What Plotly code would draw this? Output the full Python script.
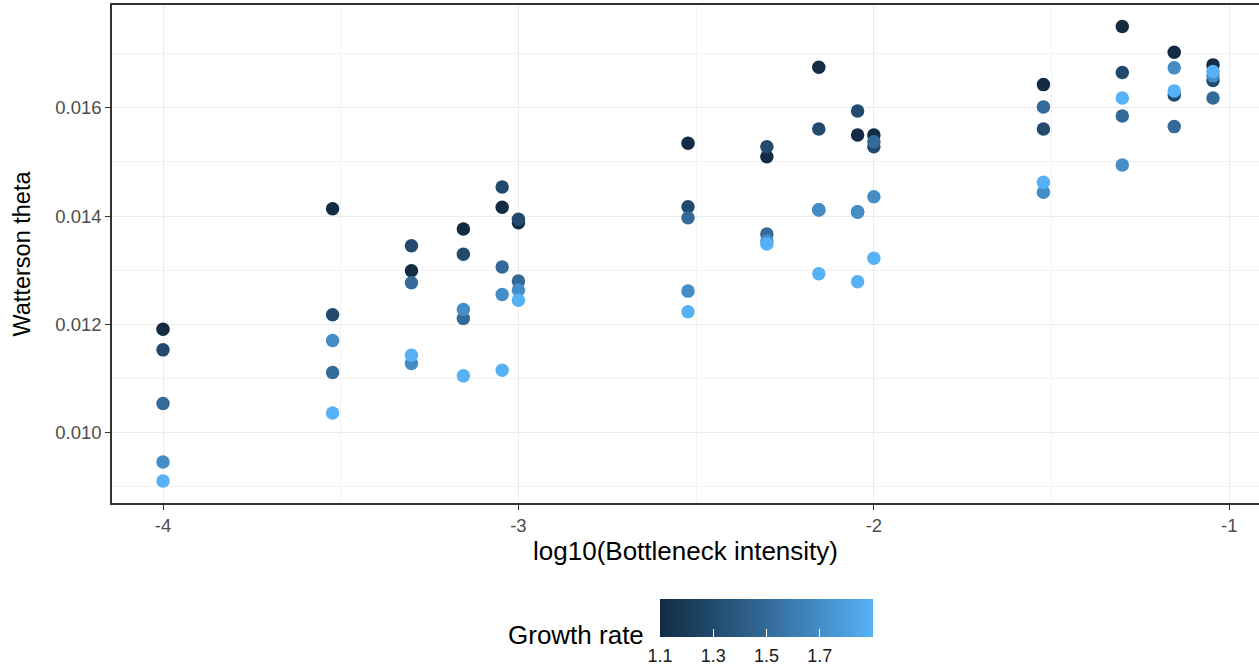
import numpy as np
import plotly.graph_objects as go

# Data
bottleneck = [1e-4, 3e-4, 5e-4, 7e-4, 9e-4, 1e-3, 3e-3, 5e-3, 7e-3, 9e-3, 1e-2, 3e-2, 5e-2, 7e-2, 9e-2]
growth_rates = [1.1, 1.3, 1.5, 1.7, 1.9]
theta_g11 = [0.011907, 0.014135, 0.012987, 0.013759, 0.014161, 0.013876, 0.015346, 0.015098, 0.016754, 0.015500, 0.015500, 0.016431, 0.017506, 0.017031, 0.016796]
theta_g13 = [0.011524, 0.012172, 0.013450, 0.013291, 0.014537, 0.013939, 0.014172, 0.015283, 0.015611, 0.015944, 0.015283, 0.015611, 0.016654, 0.016241, 0.016506]
theta_g15 = [0.010531, 0.011106, 0.012765, 0.012106, 0.013056, 0.012796, 0.013969, 0.013667, 0.014117, 0.014080, 0.015376, 0.016019, 0.015852, 0.015654, 0.016185]
theta_g17 = [0.009450, 0.011698, 0.011272, 0.012272, 0.012550, 0.012630, 0.012611, 0.013537, 0.014110, 0.014070, 0.014357, 0.014439, 0.014944, 0.016741, 0.016593]
theta_g19 = [0.009098, 0.010357, 0.011426, 0.011043, 0.011148, 0.012444, 0.012228, 0.013481, 0.012931, 0.012783, 0.013217, 0.014624, 0.016185, 0.016315, 0.016672]
x_tickvals = [-4, -3, -2, -1]
x_ticktext = ["-4", "-3", "-2", "-1"]
y_tickvals = [0.010, 0.012, 0.014, 0.016]
cbar_tickvals = [1.1, 1.3, 1.5, 1.7]
cbar_ticktext = ["1.1", "1.3", "1.5", "1.7"]

series = [theta_g11, theta_g13, theta_g15, theta_g17, theta_g19]
xs, ys, cs = [], [], []
for g, vals in zip(growth_rates, series):
    xs += list(np.log10(bottleneck))
    ys += vals
    cs += [g] * len(vals)

colorscale = [[0.0, "#132B43"], [0.25, "#224A6E"], [0.5, "#336A98"], [0.75, "#448DC6"], [1.0, "#56B1F7"]]
cmin, cmax = min(growth_rates), max(growth_rates)

W, H = 1259, 669
L, T, B = 112, 5, 166
plot_h = H - T - B
plot_w = W - L

cb_geom = dict(
    orientation="h", lenmode="pixels", len=213, thickness=38,
    x=(766.5 - L) / plot_w, xanchor="center",
    y=-(599 - 503) / plot_h, yanchor="top", ypad=0, xpad=0,
    outlinewidth=0, tickvals=cbar_tickvals, ticktext=cbar_ticktext,
)

fig = go.Figure()
# main points + labelled colorbar
fig.add_trace(go.Scatter(
    x=xs, y=ys, mode="markers",
    marker=dict(
        size=13.5, color=cs, colorscale=colorscale, cmin=cmin, cmax=cmax,
        line=dict(width=0), opacity=1,
        colorbar=dict(
            **cb_geom,
            ticks="outside", ticklen=4, tickcolor="rgba(0,0,0,0)", tickwidth=1,
            tickfont=dict(family="Liberation Sans", size=18, color="#1a1a1a"),
        ),
    ),
    showlegend=False, hoverinfo="x+y",
))
# overlay colorbar carrying the white inner tick marks
fig.add_trace(go.Scatter(
    x=[None, None], y=[None, None], mode="markers",
    marker=dict(
        color=[cmin, cmax], colorscale=colorscale, cmin=cmin, cmax=cmax, showscale=True,
        colorbar=dict(**cb_geom, ticks="inside", ticklen=8, tickcolor="white", tickwidth=1,
                      showticklabels=False),
    ),
    showlegend=False, hoverinfo="skip",
))

fig.add_annotation(
    text="Growth rate", xref="paper", yref="paper",
    x=(646 - L) / plot_w, y=-(635 - 503) / plot_h,
    xanchor="right", yanchor="middle", showarrow=False,
    font=dict(family="Liberation Sans", size=26, color="black"),
)

axis_common = dict(
    showgrid=True, gridcolor="#EBEBEB", gridwidth=1.3,
    zeroline=False, ticks="outside", ticklen=5, tickwidth=1.3, tickcolor="#333333",
    tickfont=dict(family="Liberation Sans", size=18.5, color="#4D4D4D"),
)

fig.update_layout(
    width=W, height=H,
    margin=dict(l=L, r=0, t=T, b=B, autoexpand=False),
    paper_bgcolor="white", plot_bgcolor="white",
    font=dict(family="Liberation Sans"),
    xaxis=dict(
        range=[-4.1435, -0.9164], tickvals=x_tickvals, ticktext=x_ticktext,
        showline=True, linecolor="#333333", linewidth=1.5, mirror=True,
        minor=dict(dtick=0.5, tick0=-4, showgrid=True, gridcolor="#F2F2F2", gridwidth=1, ticks=""),
        title=dict(text="log10(Bottleneck intensity)", standoff=7,
                   font=dict(family="Liberation Sans", size=26, color="black")),
        **axis_common,
    ),
    yaxis=dict(
        range=[0.008691, 0.017904], tickvals=y_tickvals, tickformat=".3f",
        showline=True, linecolor="#333333", linewidth=1.5, mirror=False,
        minor=dict(dtick=0.001, tick0=0.009, showgrid=True, gridcolor="#F2F2F2", gridwidth=1, ticks=""),
        title=dict(text="Watterson theta", standoff=18,
                   font=dict(family="Liberation Sans", size=23.5, color="black")),
        **axis_common,
    ),
)

fig.write_html("out.html")
